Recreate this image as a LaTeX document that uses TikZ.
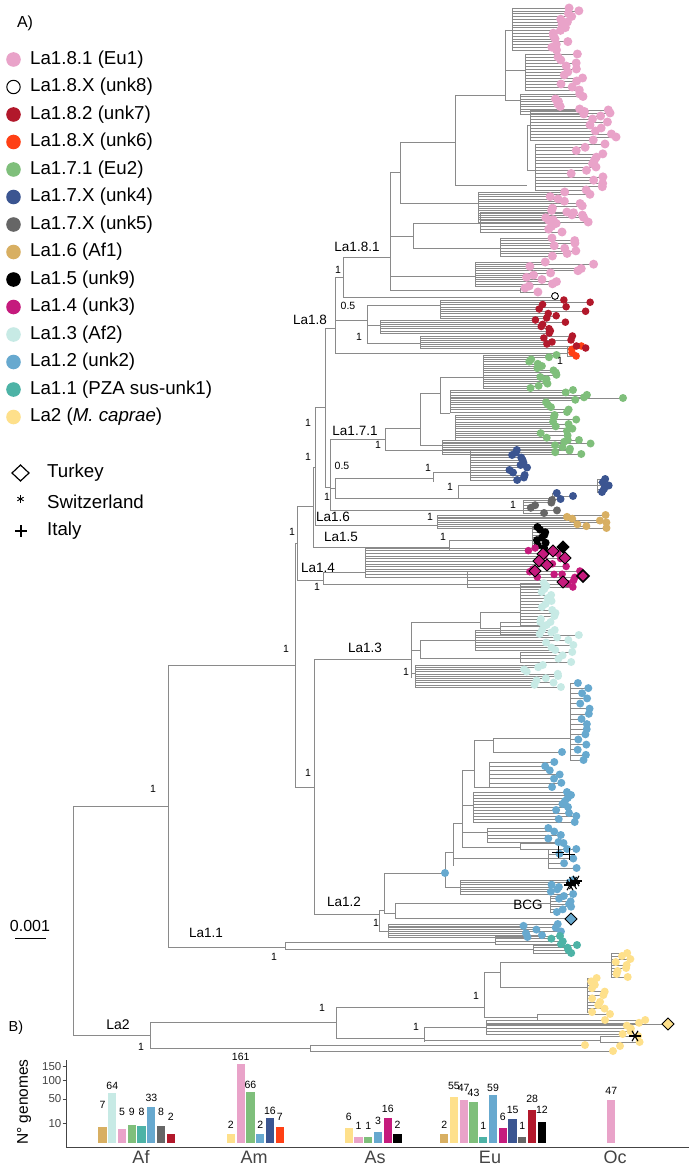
\documentclass[tikz,border=0pt]{standalone}
\usepackage{fontspec}
\setmainfont{Liberation Sans}
\usetikzlibrary{calc}
\definecolor{cPink}{HTML}{E9A3C9}
\definecolor{cRed}{HTML}{B2182B}
\definecolor{cOrange}{HTML}{FF4015}
\definecolor{cGreen}{HTML}{7FBF7B}
\definecolor{cNavy}{HTML}{3B5591}
\definecolor{cGrey}{HTML}{666666}
\definecolor{cTan}{HTML}{D8AF62}
\definecolor{cMag}{HTML}{C51B7D}
\definecolor{cCyan}{HTML}{C7EAE5}
\definecolor{cBlue}{HTML}{67A9CF}
\definecolor{cTeal}{HTML}{4DB3A6}
\definecolor{cYel}{HTML}{FEE08B}
\definecolor{cLine}{HTML}{8A8A8A}
\definecolor{cAxis}{HTML}{444444}
\tikzset{
  br/.style={draw=cLine, line width=0.5pt},
  leg/.style={font=\fontsize{18.7}{20}\selectfont, anchor=west, inner sep=0pt},
  lab/.style={font=\fontsize{13.5}{15}\selectfont, inner sep=0pt},
  sup/.style={font=\fontsize{10.5}{12}\selectfont, inner sep=0pt},
  num/.style={font=\fontsize{10.5}{11}\selectfont, inner sep=0pt},
  tick/.style={font=\fontsize{11.5}{12}\selectfont, inner sep=0pt, text=cAxis},
  cat/.style={font=\fontsize{18}{20}\selectfont, inner sep=0pt, text=cAxis},
  axisline/.style={draw=cAxis, line width=0.8pt},
  mk/.style={draw=black, line width=1pt}
}
\newif\ifdotpass
\newcommand\hb[3]{\ifdotpass\else\draw[br] (#2,#1) -- (#3,#1);\fi}
\newcommand\vb[3]{\ifdotpass\else\draw[br] (#1,#2) -- (#1,#3);\fi}
\newcommand\dotf[4]{\ifdotpass\fill[#3] (#1,#2) circle (#4pt);\fi}
% comb: node x, y top, y bottom, n, tip xmin, tip xmax, colour, radius
\newcommand\comb[8]{%
  \vb{#1}{#2}{#3}%
  \foreach \kk in {1,...,#4}{%
    \pgfmathsetmacro\yy{#2+(#3-#2)*(\kk-1)/max(#4-1,1)}%
    \pgfmathsetmacro\xx{#5+rnd*(#6-#5)}%
    \hb{\yy}{#1}{\xx}%
    \dotf{\xx}{\yy}{#7}{#8}%
  }%
}
\newcommand\dmd[4]{\filldraw[fill=#3, draw=black, line width=#4] (#1-6,#2) -- (#1,#2-6) -- (#1+6,#2) -- (#1,#2+6) -- cycle;}
\newcommand\astk[3]{\foreach \aa in {0,60,...,300}{\draw[black, line width=1.1pt] (#1,#2) -- ++(\aa:#3pt);}}
\newcommand\plusm[3]{\draw[mk] (#1-#3,#2) -- (#1+#3,#2) (#1,#2-#3) -- (#1,#2+#3);}
\newcommand\bars[2]{%
  \foreach \ii/\nn/\cc/\ly in {#2}{%
    \pgfmathsetmacro\bx{#1+9.77*\ii}%
    \pgfmathsetmacro\bt{1143.3-6.27*sqrt(\nn)}%
    \fill[\cc] (\bx-4.1,\bt) rectangle (\bx+4.1,1143.3);%
    \node[num] at (\bx,\ly) {\nn};%
  }}
\newcommand\treebody{%
% ---------------- skeleton
\vb{73}{806}{1035}
\hb{806}{73}{168}
\hb{1035}{73}{150}
\vb{168}{665}{947}
\hb{947}{168}{285}
\hb{665}{168}{295}
\vb{295}{543}{787}
\hb{543}{295}{297}
\hb{787}{295}{314}
\vb{314}{659}{914}
\vb{297}{506}{580}
\hb{506}{297}{313}
\hb{580}{297}{323}
\vb{313}{467}{547}
\hb{467}{313}{315}
\hb{547}{313}{449}
\vb{315}{407}{525}
\hb{407}{315}{325}
\hb{525}{315}{437}
\vb{325}{328}{487}
\hb{328}{325}{335}
\hb{487}{325}{330}
% ---------------- La1.8
\vb{335}{277}{353}
\hb{277}{335}{343}
\hb{320}{335}{367}
\hb{353}{335}{567}
\comb{567}{346}{356}{4}{570}{583}{cOrange}{3.8}
\vb{343}{257}{297}
\hb{257}{343}{390}
\hb{297}{343}{551}
\vb{390}{172}{290}
\hb{172}{390}{400}
\hb{236}{390}{413}
\hb{276}{390}{475}
\hb{290}{390}{520}
\comb{520}{288}{292}{2}{523}{540}{cPink}{4.5}
\vb{400}{142}{203}
\hb{142}{400}{455}
\hb{203}{400}{478}
\vb{455}{95}{185}
\hb{95}{455}{505}
\hb{185}{455}{527}
\vb{505}{30}{100}
\hb{30}{505}{512}
\hb{70}{505}{525}
\hb{100}{505}{520}
\comb{512}{8}{50}{16}{550}{580}{cPink}{4.5}
\comb{525}{54}{90}{13}{553}{583}{cPink}{4.5}
\comb{520}{94}{114}{9}{548}{586}{cPink}{4.5}
\vb{527}{125}{170}
\hb{125}{527}{530}
\hb{170}{527}{535}
\comb{530}{110}{140}{11}{588}{618}{cPink}{4.5}
\comb{535}{144}{190}{15}{570}{606}{cPink}{4.5}
\comb{478}{192}{222}{14}{550}{592}{cPink}{4.5}
\vb{413}{223}{248}
\hb{223}{413}{480}
\hb{248}{413}{500}
\comb{480}{212}{232}{8}{545}{572}{cPink}{4.5}
\comb{500}{238}{256}{8}{548}{585}{cPink}{4.5}
\comb{475}{262}{286}{12}{525}{607}{cPink}{4.5}
\vb{367}{305}{343}
\hb{305}{367}{440}
\hb{325}{367}{380}
\hb{343}{367}{420}
\comb{440}{300}{318}{9}{535}{592}{cRed}{3.8}
\comb{380}{320}{333}{7}{530}{570}{cRed}{3.8}
\comb{420}{336}{348}{7}{540}{595}{cRed}{3.8}
% ---------------- La1.7
\vb{330}{439}{510}
\hb{439}{330}{385}
\hb{488}{330}{335}
\hb{510}{330}{523}
\vb{385}{428}{450}
\hb{428}{385}{420}
\hb{450}{385}{442}
\vb{420}{393}{445}
\hb{393}{420}{440}
\hb{445}{420}{455}
\vb{440}{377}{413}
\hb{377}{440}{483}
\hb{413}{440}{450}
\comb{483}{355}{388}{16}{528}{560}{cGreen}{4}
\comb{450}{390}{412}{10}{545}{600}{cGreen}{4}
\hb{398}{450}{623}
\dotf{623}{398}{cGreen}{4}
\comb{455}{415}{440}{12}{540}{582}{cGreen}{4}
\comb{442}{440}{454}{9}{552}{592}{cGreen}{4}
\vb{335}{478}{498}
\hb{478}{335}{433}
\vb{433}{472}{482}
\hb{472}{433}{470}
\comb{470}{450}{480}{13}{508}{528}{cNavy}{4}
\hb{498}{335}{458}
\vb{458}{485}{498}
\hb{485}{458}{597}
\comb{597}{479}{492}{5}{601}{610}{cNavy}{4}
\hb{498}{458}{552}
\comb{552}{493}{499}{3}{556}{580}{cNavy}{4}
\comb{523}{500}{513}{6}{526}{557}{cGrey}{4}
\comb{437}{515}{528}{8}{567}{607}{cTan}{4}
\vb{449}{540}{550}
\hb{540}{449}{532}
\comb{532}{527}{548}{9}{535}{546}{black}{4}
\vb{323}{572}{584}
\hb{572}{323}{365}
\hb{584}{323}{467}
\comb{365}{548}{577}{12}{528}{568}{cMag}{3.8}
\comb{467}{571}{587}{6}{555}{583}{cMag}{3.8}
% ---------------- La1.3
\hb{659}{314}{411}
\vb{411}{622}{678}
\hb{622}{411}{480}
\vb{480}{612}{628}
\hb{612}{480}{520}
\comb{520}{583}{625}{15}{540}{556}{cCyan}{4}
\hb{628}{480}{500}
\comb{500}{622}{634}{4}{530}{545}{cCyan}{4}
\hb{650}{411}{420}
\vb{420}{640}{658}
\hb{640}{420}{475}
\comb{475}{630}{650}{9}{540}{582}{cCyan}{4}
\hb{658}{420}{520}
\comb{520}{652}{662}{4}{550}{580}{cCyan}{4}
\hb{673}{411}{415}
\comb{415}{665}{687}{11}{522}{565}{cCyan}{4}
% ---------------- La1.2
\hb{914}{314}{379}
\vb{379}{910}{931}
\hb{910}{379}{384}
\vb{384}{873}{913}
\hb{873}{384}{445}
\hb{913}{384}{395}
\vb{395}{903}{918}
\hb{903}{395}{550}
\comb{550}{896}{912}{7}{556}{572}{cBlue}{4}
\hb{918}{395}{565}
\hb{931}{379}{388}
\comb{388}{924}{937}{8}{520}{562}{cBlue}{4}
\vb{445}{852}{887}
\hb{852}{445}{453}
\hb{887}{445}{460}
\comb{460}{880}{894}{7}{550}{576}{cBlue}{4}
\vb{453}{823}{866}
\hb{823}{453}{462}
\hb{858}{453}{548}
\comb{548}{849}{868}{5}{555}{582}{cBlue}{4}
\vb{462}{770}{847}
\hb{770}{462}{474}
\hb{805}{462}{473}
\hb{832}{462}{487}
\hb{847}{462}{520}
\comb{520}{843}{849}{2}{560}{585}{cBlue}{4}
\vb{474}{740}{787}
\hb{740}{474}{493}
\vb{493}{738}{752}
\hb{738}{493}{570}
\comb{570}{683}{760}{16}{575}{590}{cBlue}{4}
\hb{752}{493}{560}
\dotf{562}{752}{cBlue}{4}
\hb{787}{474}{489}
\comb{489}{762}{787}{7}{545}{562}{cBlue}{4}
\comb{473}{792}{822}{11}{543}{578}{cBlue}{4}
\comb{487}{828}{842}{5}{545}{575}{cBlue}{4}
\dotf{445}{873}{cBlue}{4}
% ---------------- La1.1
\vb{285}{942}{949}
\hb{942}{285}{495}
\hb{949}{285}{533}
\comb{495}{936}{944}{4}{548}{567}{cTeal}{4}
\comb{533}{945}{953}{4}{556}{578}{cTeal}{4}
% ---------------- La2
\vb{150}{1022}{1048}
\hb{1022}{150}{336}
\hb{1048}{150}{310}
\vb{336}{1007}{1038}
\hb{1007}{336}{484}
\hb{1038}{336}{424}
\vb{484}{972}{1017}
\hb{972}{484}{500}
\vb{500}{962}{987}
\hb{962}{500}{611}
\comb{611}{953}{977}{9}{615}{632}{cYel}{4}
\hb{987}{500}{587}
\comb{587}{978}{1012}{11}{590}{606}{cYel}{4}
\hb{1017}{484}{537}
\comb{537}{1014}{1020}{2}{600}{612}{cYel}{4}
\vb{424}{1027}{1042}
\hb{1027}{424}{486}
\comb{486}{1020}{1034}{6}{620}{651}{cYel}{4}
\hb{1024}{486}{662}
\hb{1040}{424}{600}
\comb{600}{1036}{1042}{2}{625}{640}{cYel}{4}
\vb{310}{1045}{1051}
\hb{1045}{310}{585}
\hb{1051}{310}{613}
\dotf{585}{1045}{cYel}{4}
\dotf{613}{1051}{cYel}{4}
\dotf{620}{1046}{cYel}{4}
}
\begin{document}
\begin{tikzpicture}[x=1pt,y=-1pt]
\fill[white] (0,0) rectangle (689,1169);
\useasboundingbox (0,0) rectangle (689,1169);

% ---------------- legend
\node[font=\fontsize{16}{18}\selectfont, inner sep=0pt] (lblA) at (25,23) {A)};
\foreach \ii/\tt/\cc in {0/La1.8.1 (Eu1)/cPink, 2/La1.8.2 (unk7)/cRed, 3/La1.8.X (unk6)/cOrange, 4/La1.7.1 (Eu2)/cGreen, 5/La1.7.X (unk4)/cNavy, 6/La1.7.X (unk5)/cGrey, 7/La1.6 (Af1)/cTan, 8/La1.5 (unk9)/black, 9/La1.4 (unk3)/cMag, 10/La1.3 (Af2)/cCyan, 11/La1.2 (unk2)/cBlue, 12/La1.1 (PZA sus-unk1)/cTeal}{
  \fill[\cc] (13.5,59.5+27.5*\ii) circle (7.3pt);
  \node[leg] (leg\ii) at (30,59.5+27.5*\ii) {\tt};
}
\filldraw[fill=white, draw=black, line width=1pt] (13.5,87) circle (6.7pt);
\node[leg] (leg1) at (30,87) {La1.8.X (unk8)};
\fill[cYel] (13.5,417) circle (7.3pt);
\node[leg] (leg13) at (30,417) {La2 (\textit{M. caprae})};
\draw[line width=1.2pt] (12,473) -- (20.5,465) -- (29,473) -- (20.5,481) -- cycle;
\node[leg] (gTur) at (47,473) {Turkey};
\foreach \aa in {90,150,...,450}{\draw[line width=0.9pt] (20.5,499) -- ++(\aa:3.6pt);}
\node[leg] (gSwi) at (47,502) {Switzerland};
\draw[line width=1.2pt] (15,531) -- (27,531) (21,525) -- (21,537);
\node[leg] (gIta) at (47,531) {Italy};

% ---------------- tree: lines first, then dots (same random sequence)
\dotpassfalse
\pgfmathsetseed{7}
\treebody
\dotpasstrue
\pgfmathsetseed{7}
\treebody

% markers
\filldraw[fill=white, draw=black, line width=0.9pt] (555,296) circle (3.4pt);
\dmd{543}{554}{cMag}{1pt}
\dmd{553}{551}{cMag}{1pt}
\dmd{563}{547}{black}{1pt}
\dmd{539}{561}{cMag}{1pt}
\dmd{547}{565}{cMag}{1pt}
\dmd{535}{571}{cMag}{1pt}
\dmd{565}{558}{cMag}{1pt}
\dmd{583}{576}{cMag}{1.6pt}
\dmd{563}{582}{cMag}{1pt}
\plusm{558}{852}{6}
\plusm{569}{854}{6}
\astk{573}{883}{7}
\astk{570}{885}{6}
\astk{576}{881}{6}
\dmd{571}{919}{cBlue}{1pt}
\dmd{668}{1024}{cYel}{1pt}
\astk{635}{1036}{6}

% ---------------- tree labels
\node[lab] (tLa181) at (357,247) {La1.8.1};
\node[sup] (s1) at (338,270) {1};
\node[lab] (tLa18) at (310,320) {La1.8};
\node[sup] (s2) at (348,306) {0.5};
\node[sup] (s3) at (359,337) {1};
\node[sup] (s4) at (560,361) {1};
\node[sup] (s5) at (308,423) {1};
\node[sup] (s6) at (308,457) {1};
\node[lab] (tLa171) at (355,431) {La1.7.1};
\node[sup] (s7) at (378,445) {1};
\node[sup] (s8) at (342,466) {0.5};
\node[sup] (s9) at (428,468) {1};
\node[sup] (s10) at (450,487) {1};
\node[sup] (s11) at (327,497) {1};
\node[sup] (s12) at (513,505) {1};
\node[lab] (tLa16) at (333,517) {La1.6};
\node[sup] (s13) at (430,517) {1};
\node[sup] (s14) at (292,532) {1};
\node[lab] (tLa15) at (341,537) {La1.5};
\node[sup] (s15) at (443,537) {1};
\node[lab] (tLa14) at (318,568) {La1.4};
\node[sup] (s16) at (317,587) {1};
\node[sup] (s17) at (286,649) {1};
\node[lab] (tLa13) at (365,648) {La1.3};
\node[sup] (s18) at (406,672) {1};
\node[sup] (s19) at (308,773) {1};
\node[sup] (s20) at (153,789) {1};
\node[lab] (tLa12) at (344,902) {La1.2};
\node[sup] (s21) at (376,923) {1};
\node[lab] (tBCG) at (528,905) {BCG};
\node[lab] (tLa11) at (206,933) {La1.1};
\node[sup] (s22) at (274,957) {1};
\node[font=\fontsize{16}{18}\selectfont, inner sep=0pt] (tScale) at (30,926) {0.001};
\draw[black, line width=1pt] (15.4,938) -- (46.2,938);
\node[lab, font=\fontsize{14}{16}\selectfont] (tLa2) at (118,1025) {La2};
\node[sup] (s23) at (141,1047) {1};
\node[sup] (s24) at (322,1008) {1};
\node[sup] (s25) at (476,996) {1};
\node[sup] (s26) at (416,1027) {1};
\node[font=\fontsize{14.5}{16}\selectfont, inner sep=0pt] (lblB) at (16,1028) {B)};

% ---------------- bar chart
\draw[axisline] (66,1060) -- (66,1147) -- (689,1147);
\foreach \vv/\yv in {150/1066.5, 100/1080.6, 50/1099, 10/1123.5}{
  \draw[axisline] (62.5,\yv) -- (66,\yv);
  \node[tick, anchor=east] at (61.5,\yv) {\vv};
}
\node[rotate=90, font=\fontsize{15.5}{17}\selectfont, inner sep=0pt] (yLab) at (24,1102) {N° genomes};
\bars{102.5}{0/7/cTan/1105, 1/64/cCyan/1086.3, 2/5/cPink/1111.7, 3/9/cGreen/1111.7, 4/8/cTeal/1111.7, 5/33/cBlue/1098.3, 6/8/cGrey/1111.7, 7/2/cRed/1117.3}
\bars{230.9}{0/2/cYel/1125, 1/161/cPink/1057.3, 2/66/cGreen/1085, 3/2/cBlue/1125, 4/16/cNavy/1110.7, 5/7/cOrange/1117.3}
\bars{348.7}{0/6/cYel/1117.3, 1/1/cPink/1126, 2/1/cGreen/1126, 3/3/cBlue/1120.7, 4/16/cMag/1109.3, 5/2/black/1125.3}
\bars{444.2}{0/2/cTan/1125, 1/55/cYel/1086, 2/47/cPink/1088.3, 3/43/cGreen/1092.7, 4/1/cTeal/1126, 5/59/cBlue/1088.3, 6/6/cMag/1117.3, 7/15/cNavy/1110, 8/1/cGrey/1126, 9/28/cRed/1099, 10/12/black/1110}
\bars{611.3}{0/47/cPink/1090.7}
\node[cat] (cAf) at (141,1157) {Af};
\node[cat] (cAm) at (254,1157) {Am};
\node[cat] (cAs) at (375,1157) {As};
\node[cat] (cEu) at (490,1157) {Eu};
\node[cat] (cOc) at (615,1157) {Oc};
\end{tikzpicture}
\end{document}
